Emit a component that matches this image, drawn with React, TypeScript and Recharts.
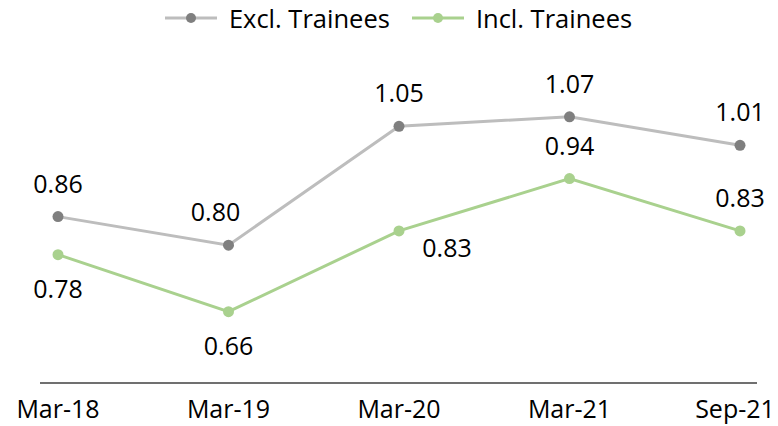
import { LineChart, Line, XAxis, YAxis, Legend, LabelList, Text } from "recharts";

const periods = ["Mar-18", "Mar-19", "Mar-20", "Mar-21", "Sep-21"];
const exclTrainees = [0.86, 0.8, 1.05, 1.07, 1.01];
const inclTrainees = [0.78, 0.66, 0.83, 0.94, 0.83];

// where each point's label sits relative to the marker
const exclLabelPos = ["top", "topleft", "top", "top", "top"];
const inclLabelPos = ["bottom", "bottom", "right", "top", "top"];

const data = periods.map((p, i) => ({
  period: p,
  excl: exclTrainees[i],
  incl: inclTrainees[i],
}));

const FONT = "'Open Sans', sans-serif";
const GREY_LINE = "#bdbdbd";
const GREY_DOT = "#7f7f7f";
const GREEN = "#a9d18e";

const makeLabel = (positions: string[]) => (props: any) => {
  const { x, y, value, index } = props;
  const pos = positions[index];
  let tx = x;
  let ty = y;
  if (pos === "top") ty = y - 34;
  if (pos === "topleft") {
    tx = x - 13;
    ty = y - 34;
  }
  if (pos === "bottom") ty = y + 33;
  if (pos === "right") {
    tx = x + 48;
    ty = y + 16;
  }
  return (
    <text
      x={tx}
      y={ty}
      textAnchor="middle"
      dominantBaseline="central"
      fontFamily={FONT}
      fontSize={25}
      fill="#000"
    >
      {Number(value).toFixed(2)}
    </text>
  );
};

// last tick nudged left so it stays inside the frame
const CategoryTick = (props: any) => {
  const { x, y, payload, index } = props;
  return (
    <Text
      x={x}
      y={y}
      dx={index === periods.length - 1 ? -5 : 0}
      dy={9}
      textAnchor="middle"
      verticalAnchor="start"
      fill="#000"
      fontSize={25}
      fontFamily={FONT}
    >
      {payload.value}
    </Text>
  );
};

const legendItems = [
  { label: "Excl. Trainees", line: GREY_LINE, dot: GREY_DOT },
  { label: "Incl. Trainees", line: GREEN, dot: GREEN },
];

function LegendContent() {
  return (
    <div
      style={{
        display: "flex",
        justifyContent: "center",
        alignItems: "center",
        height: 36,
        fontFamily: FONT,
        fontSize: 25.5,
        color: "#000",
      }}
    >
      {legendItems.map((it) => (
        <div key={it.label} style={{ display: "flex", alignItems: "center", margin: "0 11px" }}>
          <svg width={52} height={12} style={{ marginRight: 12 }}>
            <line x1={0} y1={6} x2={52} y2={6} stroke={it.line} strokeWidth={3} />
            <circle cx={26} cy={6} r={5} fill={it.dot} />
          </svg>
          <span>{it.label}</span>
        </div>
      ))}
    </div>
  );
}

export default function App() {
  return (
    <div style={{ position: "absolute", left: 0, top: 0, background: "#fff" }}>
      <LineChart
        width={778}
        height={426}
        data={data}
        margin={{ top: 19, right: 21, left: 40, bottom: 0 }}
      >
        <Legend
          verticalAlign="top"
          align="center"
          wrapperStyle={{ top: 0 }}
          content={<LegendContent />}
        />
        <XAxis
          dataKey="period"
          axisLine={{ stroke: "#404040", strokeWidth: 1.5 }}
          tickLine={false}
          padding={{ left: 18, right: 17 }}
          height={43}
          tick={<CategoryTick />}
          interval={0}
        />
        <YAxis hide domain={[0.51, 1.2]} />
        <Line
          dataKey="excl"
          name="Excl. Trainees"
          stroke={GREY_LINE}
          strokeWidth={3}
          dot={{ r: 5.5, fill: GREY_DOT, stroke: GREY_DOT, strokeWidth: 0 }}
          isAnimationActive={false}
        >
          <LabelList dataKey="excl" content={makeLabel(exclLabelPos)} />
        </Line>
        <Line
          dataKey="incl"
          name="Incl. Trainees"
          stroke={GREEN}
          strokeWidth={3}
          dot={{ r: 5.5, fill: GREEN, stroke: GREEN, strokeWidth: 0 }}
          isAnimationActive={false}
        >
          <LabelList dataKey="incl" content={makeLabel(inclLabelPos)} />
        </Line>
      </LineChart>
    </div>
  );
}
